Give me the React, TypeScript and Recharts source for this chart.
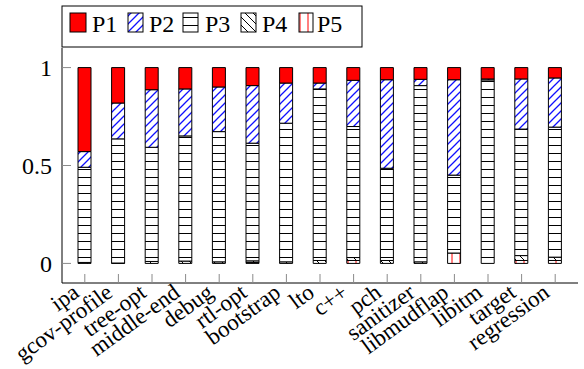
import React from 'react';
import { BarChart, Bar, XAxis, YAxis } from 'recharts';

const categories = ['ipa', 'gcov-profile', 'tree-opt', 'middle-end', 'debug', 'rtl-opt', 'bootstrap', 'lto', 'c++', 'pch', 'sanitizer', 'libmudflap', 'libitm', 'target', 'regression'];
const p1 = [0.429, 0.181, 0.113, 0.109, 0.099, 0.092, 0.079, 0.079, 0.065, 0.062, 0.06, 0.062, 0.058, 0.058, 0.053];
const p2 = [0.08, 0.183, 0.294, 0.24, 0.228, 0.294, 0.205, 0.03, 0.236, 0.452, 0.032, 0.487, 0.005, 0.256, 0.251];
const p3 = [0.486, 0.634, 0.583, 0.639, 0.665, 0.601, 0.708, 0.876, 0.669, 0.471, 0.9, 0.398, 0.937, 0.646, 0.664];
const p4 = [0.005, 0.002, 0.01, 0.012, 0.008, 0.008, 0.008, 0.015, 0.015, 0.015, 0.008, 0, 0, 0.025, 0.017];
const p5 = [0, 0, 0, 0, 0, 0.005, 0, 0, 0.015, 0, 0, 0.053, 0, 0.015, 0.015];
const seriesNames = ['P1', 'P2', 'P3', 'P4', 'P5'];
const yTicks = [0, 0.5, 1];
const yTickLabels = ['0', '0.5', '1'];

const data = categories.map((name, i) => ({
  name,
  P1: p1[i],
  P2: p2[i],
  P3: p3[i],
  P4: p4[i],
  P5: p5[i],
}));

const FONT = "'Liberation Serif', 'Times New Roman', serif";
const FS = 24;
const XFS = 23;
const TICK_COLOR = '#8a8a8a';
const TL = 9;

const fills: Record<string, string> = {
  P1: '#ff0000',
  P2: 'url(#patP2)',
  P3: 'url(#patP3)',
  P4: 'url(#patP4)',
  P5: 'url(#patP5)',
};

const BottomTick = (props: any) => {
  const { x, y, payload } = props;
  const ax = x - 9;
  const ay = y + 6;
  return (
    <g>
      <line x1={x} x2={x} y1={y} y2={y - TL} stroke={TICK_COLOR} strokeWidth={1} />
      <text
        x={ax}
        y={ay}
        dy="0.35em"
        textAnchor="end"
        fontFamily={FONT}
        fontSize={XFS}
        fill="#000"
        transform={`rotate(-36, ${ax}, ${ay})`}
      >
        {payload.value}
      </text>
    </g>
  );
};

const TopTick = (props: any) => {
  const { x, y } = props;
  return <line x1={x} x2={x} y1={y} y2={y + TL} stroke={TICK_COLOR} strokeWidth={1} />;
};

const LeftTick = (props: any) => {
  const { x, y, payload } = props;
  const idx = yTicks.indexOf(payload.value);
  return (
    <g>
      <line x1={x} x2={x + TL} y1={y} y2={y} stroke={TICK_COLOR} strokeWidth={1} />
      <text x={x - 10} y={y} dy="0.35em" textAnchor="end" fontFamily={FONT} fontSize={FS} fill="#000">
        {idx >= 0 ? yTickLabels[idx] : payload.value}
      </text>
    </g>
  );
};

const RightTick = (props: any) => {
  const { x, y } = props;
  return <line x1={x} x2={x - TL} y1={y} y2={y} stroke={TICK_COLOR} strokeWidth={1} />;
};

const Patterns = () => (
  <defs>
    <pattern id="patP2" patternUnits="userSpaceOnUse" width="8" height="8">
      <rect width="8" height="8" fill="#fff" />
      <path d="M-2,2 L2,-2 M0,8 L8,0 M6,10 L10,6" stroke="#1010ff" strokeWidth="1.3" />
    </pattern>
    <pattern id="patP3" patternUnits="userSpaceOnUse" width="8" height="8">
      <rect width="8" height="8" fill="#fff" />
      <path d="M0,1.5 L8,1.5" stroke="#000" strokeWidth="1" />
    </pattern>
    <pattern id="patP4" patternUnits="userSpaceOnUse" width="8" height="8">
      <rect width="8" height="8" fill="#fff" />
      <path d="M-2,6 L2,10 M0,0 L8,8 M6,-2 L10,2" stroke="#000" strokeWidth="1" />
    </pattern>
    <pattern id="patP5" patternUnits="userSpaceOnUse" width="8" height="8">
      <rect width="8" height="8" fill="#fff" />
      <path d="M4,0 L4,8" stroke="#ff0000" strokeWidth="1" />
    </pattern>
  </defs>
);

const legendItems = [
  { name: seriesNames[0], sx: 70, sw: 16, tx: 92 },
  { name: seriesNames[1], sx: 128, sw: 15, tx: 149 },
  { name: seriesNames[2], sx: 183, sw: 15, tx: 205 },
  { name: seriesNames[3], sx: 241, sw: 15, tx: 262 },
  { name: seriesNames[4], sx: 299, sw: 14, tx: 317 },
];

const LegendBox = () => (
  <svg width={584} height={369} style={{ position: 'absolute', left: 0, top: 0, pointerEvents: 'none' }}>
    <Patterns />
    <rect x={62} y={6} width={300} height={41} fill="#fff" stroke="#000" strokeWidth={1} />
    {legendItems.map((it) => (
      <g key={it.name}>
        <rect x={it.sx} y={13} width={it.sw} height={19} fill={fills[it.name]} stroke="#000" strokeWidth={1} />
        <text x={it.tx} y={32} fontFamily={FONT} fontSize={FS} fill="#000">
          {it.name}
        </text>
      </g>
    ))}
  </svg>
);

const stackOrder = ['P5', 'P4', 'P3', 'P2', 'P1'];

export default function App() {
  return (
    <div style={{ position: 'absolute', left: 0, top: 0, width: 584, height: 369, background: '#fff' }}>
      <LegendBox />
      <div style={{ position: 'absolute', left: 0, top: 0 }}>
        <BarChart
          width={584}
          height={369}
          data={data}
          margin={{ top: 48, right: 6, bottom: 0, left: 12 }}
          barSize={13}
        >
          <XAxis
            dataKey="name"
            xAxisId="bottom"
            orientation="bottom"
            height={86}
            padding={{ left: 6, right: 6 }}
            interval={0}
            tickSize={0}
            tickMargin={0}
            tickLine={false}
            axisLine={{ stroke: '#000', strokeWidth: 1 }}
            tick={<BottomTick />}
          />
          <XAxis
            dataKey="name"
            xAxisId="top"
            orientation="top"
            height={0}
            padding={{ left: 6, right: 6 }}
            interval={0}
            tickSize={0}
            tickMargin={0}
            tickLine={false}
            axisLine={{ stroke: '#000', strokeWidth: 1 }}
            tick={<TopTick />}
          />
          <YAxis
            yAxisId="left"
            type="number"
            domain={[-0.1, 1.1]}
            allowDataOverflow
            ticks={yTicks}
            width={50}
            tickSize={0}
            tickMargin={0}
            tickLine={false}
            axisLine={{ stroke: '#000', strokeWidth: 1 }}
            tick={<LeftTick />}
          />
          <YAxis
            yAxisId="right"
            orientation="right"
            type="number"
            domain={[-0.1, 1.1]}
            allowDataOverflow
            ticks={yTicks}
            width={0}
            tickSize={0}
            tickMargin={0}
            tickLine={false}
            axisLine={{ stroke: '#000', strokeWidth: 1 }}
            tick={<RightTick />}
          />
          {stackOrder.map((k) => (
            <Bar
              key={k}
              dataKey={k}
              stackId="s"
              xAxisId="bottom"
              yAxisId="left"
              fill={fills[k]}
              stroke="#000"
              strokeWidth={1}
              isAnimationActive={false}
            />
          ))}
        </BarChart>
      </div>
    </div>
  );
}
